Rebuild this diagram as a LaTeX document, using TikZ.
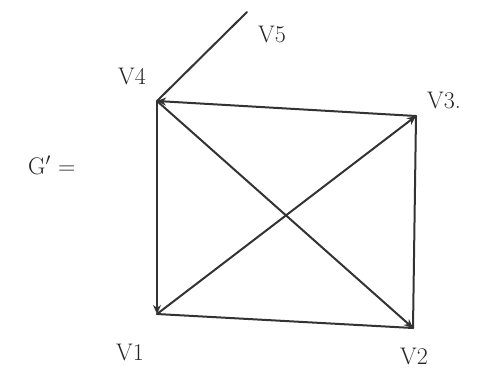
\documentclass[tikz,border=0pt]{standalone}
\usetikzlibrary{arrows.meta}
\begin{document}
\begin{tikzpicture}[x=1pt,y=-1pt,
  edge/.style={draw=black!80,line width=2pt,line cap=round},
  arr/.style={edge,-{Stealth[length=9pt,width=8pt]}},
  lbl/.style={font=\fontsize{24}{24}\selectfont,text=black!85,inner sep=0pt}]
\useasboundingbox[fill=white] (0,0) rectangle (478,373);
\coordinate (v4) at (157,101);
\coordinate (v3) at (416,116);
\coordinate (v1) at (157,314);
\coordinate (v2) at (413,328);
\coordinate (v5) at (247,12);
\draw[edge] (v4) -- (v5);
\draw[arr] (v3) -- (v4);
\draw[arr] (v4) -- (v1);
\draw[arr] (v1) -- (v3);
\draw[arr] (v4) -- (v2);
\draw[edge] (v1) -- (v2);
\draw[edge] (v2) -- (v3);
\node[lbl] (l5) at (272,34) {V5};
\node[lbl] (l4) at (132,76) {V4};
\node[lbl] (l3) at (444,100) {V3.};
\node[lbl] (l1) at (130,352) {V1};
\node[lbl] (l2) at (414,356) {V2};
\node[lbl,anchor=west] (g) at (28,165) {G$'$ =};
\end{tikzpicture}
\end{document}
